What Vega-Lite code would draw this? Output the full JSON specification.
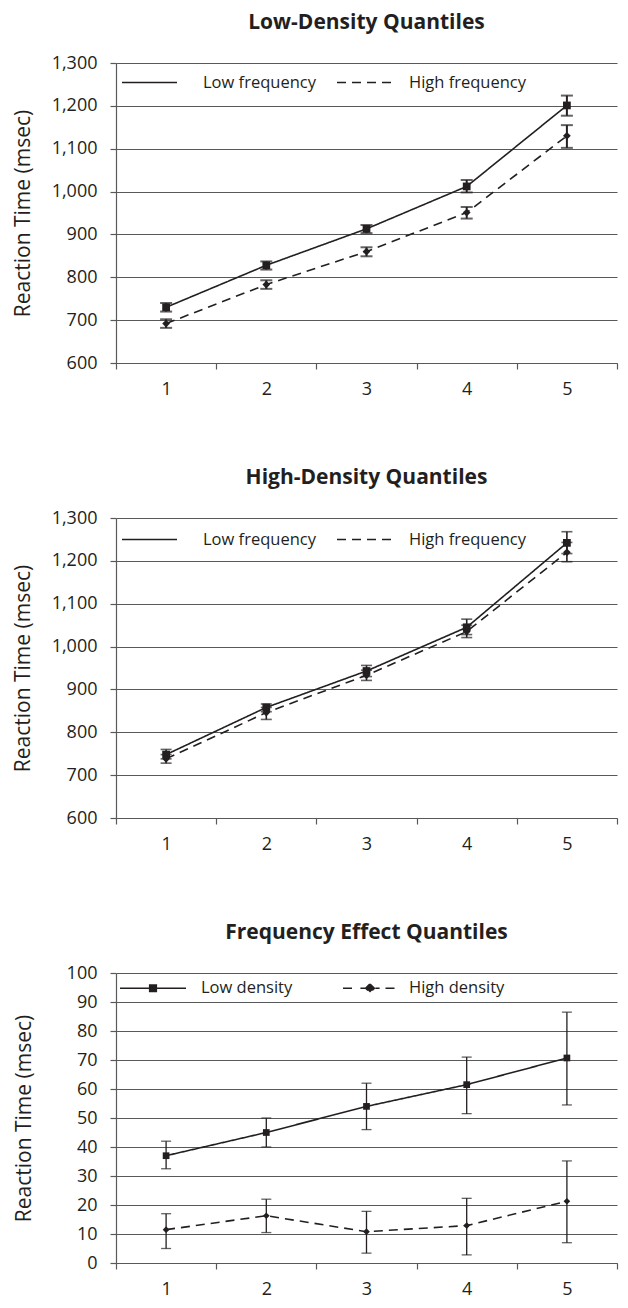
{
  "$schema": "https://vega.github.io/schema/vega-lite/v6.json",
  "padding": {"left": 12, "top": 12, "right": 5, "bottom": 5},
  "background": "white",
  "spacing": 69,
  "datasets": {
    "lowdens": [
      {"q": 1, "series": "Low frequency", "rt": 730, "lo": 720, "hi": 740},
      {"q": 2, "series": "Low frequency", "rt": 828, "lo": 818, "hi": 837},
      {"q": 3, "series": "Low frequency", "rt": 913, "lo": 903, "hi": 922},
      {"q": 4, "series": "Low frequency", "rt": 1012, "lo": 998, "hi": 1027},
      {"q": 5, "series": "Low frequency", "rt": 1201, "lo": 1177, "hi": 1224},
      {"q": 1, "series": "High frequency", "rt": 692, "lo": 682, "hi": 702},
      {"q": 2, "series": "High frequency", "rt": 783, "lo": 773, "hi": 793},
      {"q": 3, "series": "High frequency", "rt": 860, "lo": 849, "hi": 870},
      {"q": 4, "series": "High frequency", "rt": 951, "lo": 937, "hi": 964},
      {"q": 5, "series": "High frequency", "rt": 1130, "lo": 1102, "hi": 1155}
    ],
    "highdens": [
      {"q": 1, "series": "Low frequency", "rt": 748, "lo": 738, "hi": 760},
      {"q": 2, "series": "Low frequency", "rt": 858, "lo": 848, "hi": 866},
      {"q": 3, "series": "Low frequency", "rt": 943, "lo": 930, "hi": 956},
      {"q": 4, "series": "Low frequency", "rt": 1045, "lo": 1028, "hi": 1064},
      {"q": 5, "series": "Low frequency", "rt": 1242, "lo": 1217, "hi": 1268},
      {"q": 1, "series": "High frequency", "rt": 738, "lo": 728, "hi": 748},
      {"q": 2, "series": "High frequency", "rt": 846, "lo": 830, "hi": 858},
      {"q": 3, "series": "High frequency", "rt": 933, "lo": 921, "hi": 945},
      {"q": 4, "series": "High frequency", "rt": 1035, "lo": 1021, "hi": 1050},
      {"q": 5, "series": "High frequency", "rt": 1220, "lo": 1198, "hi": 1243}
    ],
    "effect": [
      {"q": 1, "series": "Low density", "rt": 37, "lo": 32.5, "hi": 42},
      {"q": 2, "series": "Low density", "rt": 45, "lo": 40, "hi": 50},
      {"q": 3, "series": "Low density", "rt": 54, "lo": 46, "hi": 62},
      {"q": 4, "series": "Low density", "rt": 61.5, "lo": 51.5, "hi": 71},
      {"q": 5, "series": "Low density", "rt": 70.7, "lo": 54.5, "hi": 86.5},
      {"q": 1, "series": "High density", "rt": 11.5, "lo": 5, "hi": 17},
      {"q": 2, "series": "High density", "rt": 16.3, "lo": 10.5, "hi": 22},
      {"q": 3, "series": "High density", "rt": 10.8, "lo": 3.4, "hi": 17.8},
      {"q": 4, "series": "High density", "rt": 12.9, "lo": 2.8, "hi": 22.3},
      {"q": 5, "series": "High density", "rt": 21.3, "lo": 7, "hi": 35.2}
    ]
  },
  "vconcat": [
    {
      "width": 501,
      "height": 300,
      "title": {"text": "Low-Density Quantiles"},
      "data": {"name": "lowdens"},
      "encoding": {
        "x": {"field": "q", "type": "ordinal", "title": null, "scale": {"type": "band", "paddingInner": 0, "paddingOuter": 0}, "axis": {"labelAngle": 0, "tickBand": "extent", "grid": false, "labelPadding": 11}},
        "y": {"field": "rt", "type": "quantitative", "title": "Reaction Time (msec)", "scale": {"domain": [600, 1300]}, "axis": {"values": [600, 700, 800, 900, 1000, 1100, 1200, 1300], "format": ",.0f"}}
      },
      "layer": [
        {
          "mark": {"type": "errorbar", "ticks": {"size": 12, "thickness": 2}, "thickness": 2, "color": "#231f20"},
          "encoding": {
            "y": {"field": "lo", "type": "quantitative", "title": "Reaction Time (msec)", "scale": {"domain": [600, 1300]}, "axis": {"values": [600, 700, 800, 900, 1000, 1100, 1200, 1300], "format": ",.0f"}},
            "y2": {"field": "hi"}
          }
        },
        {
          "mark": {"type": "line", "strokeWidth": 1.6, "color": "#231f20"},
          "encoding": {
            "strokeDash": {"field": "series", "type": "nominal", "scale": {"domain": ["Low frequency", "High frequency"], "range": [[1, 0], [9, 6]]},
              "legend": {"orient": "none", "legendX": 5, "legendY": -9, "direction": "horizontal", "title": null, "symbolType": "stroke", "symbolSize": 3025, "symbolStrokeWidth": 1.6, "labelOffset": 21, "columnPadding": 17,
                "encode": {"labels": {"update": {"dx": {"signal": "datum.value === 'Low frequency' ? 4 : -5"}}}}}}
          }
        },
        {
          "transform": [{"filter": "datum.series === 'Low frequency'"}],
          "mark": {"type": "point", "filled": true, "color": "#231f20", "size": 60, "opacity": 1, "shape": "square"}
        },
        {
          "transform": [{"filter": "datum.series === 'High frequency'"}],
          "mark": {"type": "point", "filled": true, "color": "#231f20", "size": 60, "opacity": 1, "shape": "diamond"}
        }
      ]
    },
    {
      "width": 501,
      "height": 300,
      "title": {"text": "High-Density Quantiles"},
      "data": {"name": "highdens"},
      "encoding": {
        "x": {"field": "q", "type": "ordinal", "title": null, "scale": {"type": "band", "paddingInner": 0, "paddingOuter": 0}, "axis": {"labelAngle": 0, "tickBand": "extent", "grid": false, "labelPadding": 11}},
        "y": {"field": "rt", "type": "quantitative", "title": "Reaction Time (msec)", "scale": {"domain": [600, 1300]}, "axis": {"values": [600, 700, 800, 900, 1000, 1100, 1200, 1300], "format": ",.0f"}}
      },
      "layer": [
        {
          "mark": {"type": "errorbar", "ticks": {"size": 11, "thickness": 1.6}, "thickness": 1.6, "color": "#231f20"},
          "encoding": {
            "y": {"field": "lo", "type": "quantitative", "title": "Reaction Time (msec)", "scale": {"domain": [600, 1300]}, "axis": {"values": [600, 700, 800, 900, 1000, 1100, 1200, 1300], "format": ",.0f"}},
            "y2": {"field": "hi"}
          }
        },
        {
          "mark": {"type": "line", "strokeWidth": 1.6, "color": "#231f20"},
          "encoding": {
            "strokeDash": {"field": "series", "type": "nominal", "scale": {"domain": ["Low frequency", "High frequency"], "range": [[1, 0], [9, 6]]},
              "legend": {"orient": "none", "legendX": 5, "legendY": -7, "direction": "horizontal", "title": null, "symbolType": "stroke", "symbolSize": 3025, "symbolStrokeWidth": 1.6, "labelOffset": 21, "columnPadding": 17,
                "encode": {"labels": {"update": {"dx": {"signal": "datum.value === 'Low frequency' ? 4 : -5"}}}}}}
          }
        },
        {
          "transform": [{"filter": "datum.series === 'Low frequency'"}],
          "mark": {"type": "point", "filled": true, "color": "#231f20", "size": 60, "opacity": 1, "shape": "square"}
        },
        {
          "transform": [{"filter": "datum.series === 'High frequency'"}],
          "mark": {"type": "point", "filled": true, "color": "#231f20", "size": 60, "opacity": 1, "shape": "diamond"}
        }
      ]
    },
    {
      "width": 501,
      "height": 290,
      "title": {"text": "Frequency Effect Quantiles"},
      "data": {"name": "effect"},
      "encoding": {
        "x": {"field": "q", "type": "ordinal", "title": null, "scale": {"type": "band", "paddingInner": 0, "paddingOuter": 0}, "axis": {"labelAngle": 0, "tickBand": "extent", "grid": false, "labelPadding": 11}},
        "y": {"field": "rt", "type": "quantitative", "title": "Reaction Time (msec)", "scale": {"domain": [0, 100]}, "axis": {"values": [0, 10, 20, 30, 40, 50, 60, 70, 80, 90, 100], "titlePadding": 32}}
      },
      "layer": [
        {
          "mark": {"type": "errorbar", "ticks": {"size": 10, "thickness": 1.3}, "thickness": 1.3, "color": "#231f20"},
          "encoding": {
            "y": {"field": "lo", "type": "quantitative", "title": "Reaction Time (msec)", "scale": {"domain": [0, 100]}, "axis": {"values": [0, 10, 20, 30, 40, 50, 60, 70, 80, 90, 100], "titlePadding": 32}},
            "y2": {"field": "hi"}
          }
        },
        {
          "mark": {"type": "line", "strokeWidth": 1.6, "color": "#231f20"},
          "encoding": {
            "strokeDash": {"field": "series", "type": "nominal", "scale": {"domain": ["Low density", "High density"], "range": [[1, 0], [9, 6]]},
              "legend": {"orient": "none", "legendX": 16, "legendY": -6, "direction": "horizontal", "title": null, "symbolType": "stroke", "symbolSize": 1600, "symbolStrokeWidth": 1.6, "symbolFillColor": "#231f20", "labelOffset": 27, "columnPadding": 46,
                "encode": {
                  "labels": {"update": {"dx": {"signal": "datum.value === 'High density' ? -7 : 0"}}},
                  "symbols": {"update": {
                  "shape": {"signal": "datum.value === 'Low density' ? 'M-1.65,0L1.65,0M-0.165,-0.165L0.165,-0.165L0.165,0.165L-0.165,0.165Z' : 'M-1.25,0L-0.675,0M-0.38,0L0.58,0M0.875,0L1.45,0M0.1,-0.215L0.315,0L0.1,0.215L-0.115,0Z'"},
                  "strokeDash": {"value": [1, 0]},
                  "stroke": {"value": "#231f20"},
                  "strokeWidth": {"value": 1.6},
                  "strokeOpacity": {"value": 1},
                  "opacity": {"value": 1},
                  "fill": {"value": "#231f20"},
                  "fillOpacity": {"value": 1}
                }}}}}
          }
        },
        {
          "transform": [{"filter": "datum.series === 'Low density'"}],
          "mark": {"type": "point", "filled": true, "color": "#231f20", "size": 45, "opacity": 1, "shape": "square"}
        },
        {
          "transform": [{"filter": "datum.series === 'High density'"}],
          "mark": {"type": "point", "filled": true, "color": "#231f20", "size": 45, "opacity": 1, "shape": "diamond"}
        }
      ]
    }
  ],
  "resolve": {"scale": {"strokeDash": "independent"}, "legend": {"strokeDash": "independent"}},
  "config": {
    "font": "Open Sans",
    "view": {"stroke": null},
    "title": {"font": "Open Sans", "fontSize": 21, "fontWeight": "bold", "color": "#231f20", "anchor": "middle", "offset": 21},
    "axis": {
      "labelFont": "Open Sans", "labelFontSize": 18, "labelColor": "#231f20",
      "titleFont": "Open Sans", "titleFontSize": 21, "titleFontWeight": "normal", "titleColor": "#231f20",
      "domainColor": "#58595b", "tickColor": "#58595b", "gridColor": "#58595b", "gridOpacity": 1,
      "domainWidth": 1.2, "gridWidth": 1.2, "tickWidth": 1.2, "tickSize": 6, "labelPadding": 13, "titlePadding": 18
    },
    "axisY": {"grid": true},
    "legend": {"labelFont": "Open Sans", "labelFontSize": 16.5, "labelColor": "#231f20", "symbolStrokeColor": "#231f20"}
  }
}
